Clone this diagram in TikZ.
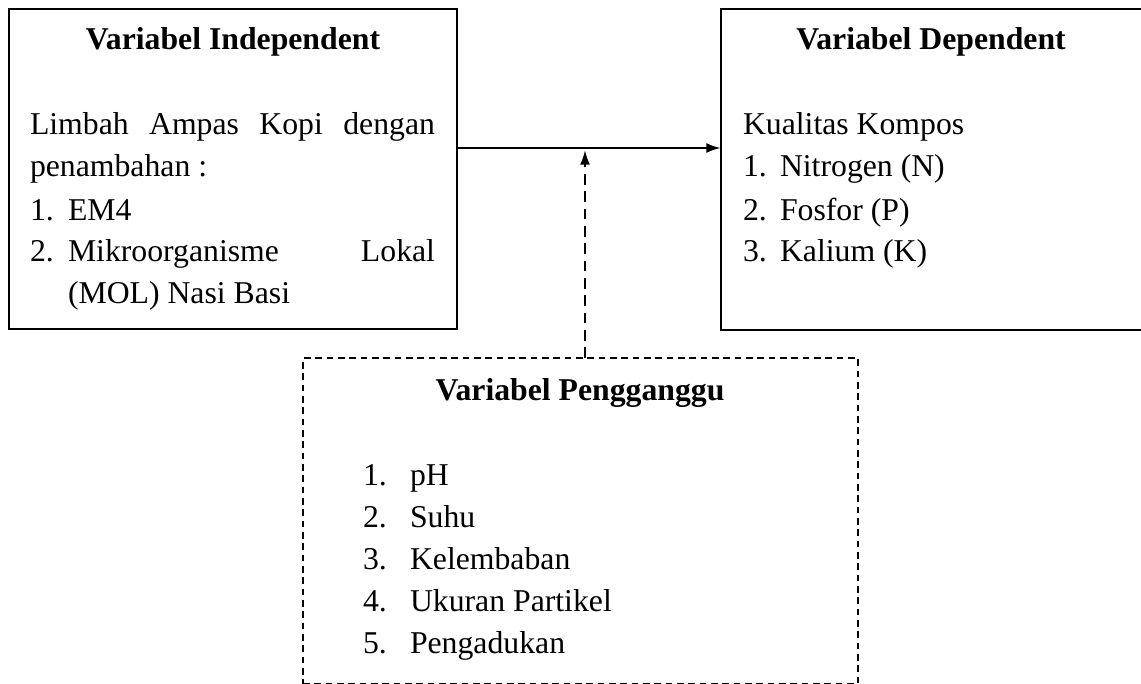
\documentclass[tikz,border=0pt]{standalone}
\usepackage{fontspec}
\setmainfont{Liberation Serif}
\usetikzlibrary{arrows.meta}
\begin{document}
\begin{tikzpicture}[x=0.75pt,y=-0.75pt,
  frame/.style={draw, line width=1.35pt, inner sep=0pt, outer sep=0pt, anchor=north west},
  dframe/.style={draw, line width=1.1pt, dash pattern=on 5pt off 3.5pt, inner sep=0pt, outer sep=0pt, anchor=north west},
  txt/.style={anchor=base west, inner sep=0pt, outer sep=0pt, font=\fontsize{23.8pt}{31.5pt}\selectfont},
  ttl/.style={anchor=base, inner sep=0pt, outer sep=0pt, font=\fontsize{23.8pt}{31.5pt}\selectfont\bfseries},
  conn/.style={line width=1.8pt, -{Latex[length=11pt,width=7.5pt]}},
  dconn/.style={conn, line width=1.5pt, dash pattern=on 8pt off 5pt}]
\useasboundingbox (0,0) rectangle (1141,684);
% boxes
\node[frame, minimum width={448*0.75pt}, minimum height={320*0.75pt}] (indep) at (9,9) {};
\node[frame, minimum width={422*0.75pt}, minimum height={321*0.75pt}] (dep) at (721,9) {};
\node[dframe, minimum width={555*0.75pt}, minimum height={325.5*0.75pt}] (peng) at (303,358) {};
% left box text
\node[ttl] (indepT) at (233,50) {Variabel Independent};
\node[txt] (l1) at (30,135) {\makebox[303.75pt][s]{Limbah Ampas Kopi dengan}};
\node[txt] (l2) at (30,177) {penambahan :};
\node[txt] (l3n) at (30,220) {1.};
\node[txt] (l3) at (68,220) {EM4};
\node[txt] (l4n) at (30,262) {2.};
\node[txt] (l4) at (68,262) {\makebox[275.25pt][s]{Mikroorganisme Lokal}};
\node[txt] (l5) at (68,303) {(MOL) Nasi Basi};
% right box text
\node[ttl] (depT) at (931,50) {Variabel Dependent};
\node[txt] (r1) at (743,135) {Kualitas Kompos};
\node[txt] (r2n) at (743,177) {1.};
\node[txt] (r2) at (780,177) {Nitrogen (N)};
\node[txt] (r3n) at (743,220) {2.};
\node[txt] (r3) at (780,220) {Fosfor (P)};
\node[txt] (r4n) at (743,262) {3.};
\node[txt] (r4) at (780,262) {Kalium (K)};
% bottom box text
\node[ttl] (pengT) at (580,400) {Variabel Pengganggu};
\node[txt] (p1n) at (363,485) {1.};
\node[txt] (p1) at (410,485) {pH};
\node[txt] (p2n) at (363,527) {2.};
\node[txt] (p2) at (410,527) {Suhu};
\node[txt] (p3n) at (363,569) {3.};
\node[txt] (p3) at (410,569) {Kelembaban};
\node[txt] (p4n) at (363,611) {4.};
\node[txt] (p4) at (410,611) {Ukuran Partikel};
\node[txt] (p5n) at (363,653) {5.};
\node[txt] (p5) at (410,653) {Pengadukan};
% connectors
\coordinate (hrow) at (0,148);
\coordinate (meet) at (585,150);
\draw[conn] (indep.east |- hrow) -- (dep.west |- hrow);
\draw[dconn] (peng.north -| meet) -- (meet);
\end{tikzpicture}
\end{document}
